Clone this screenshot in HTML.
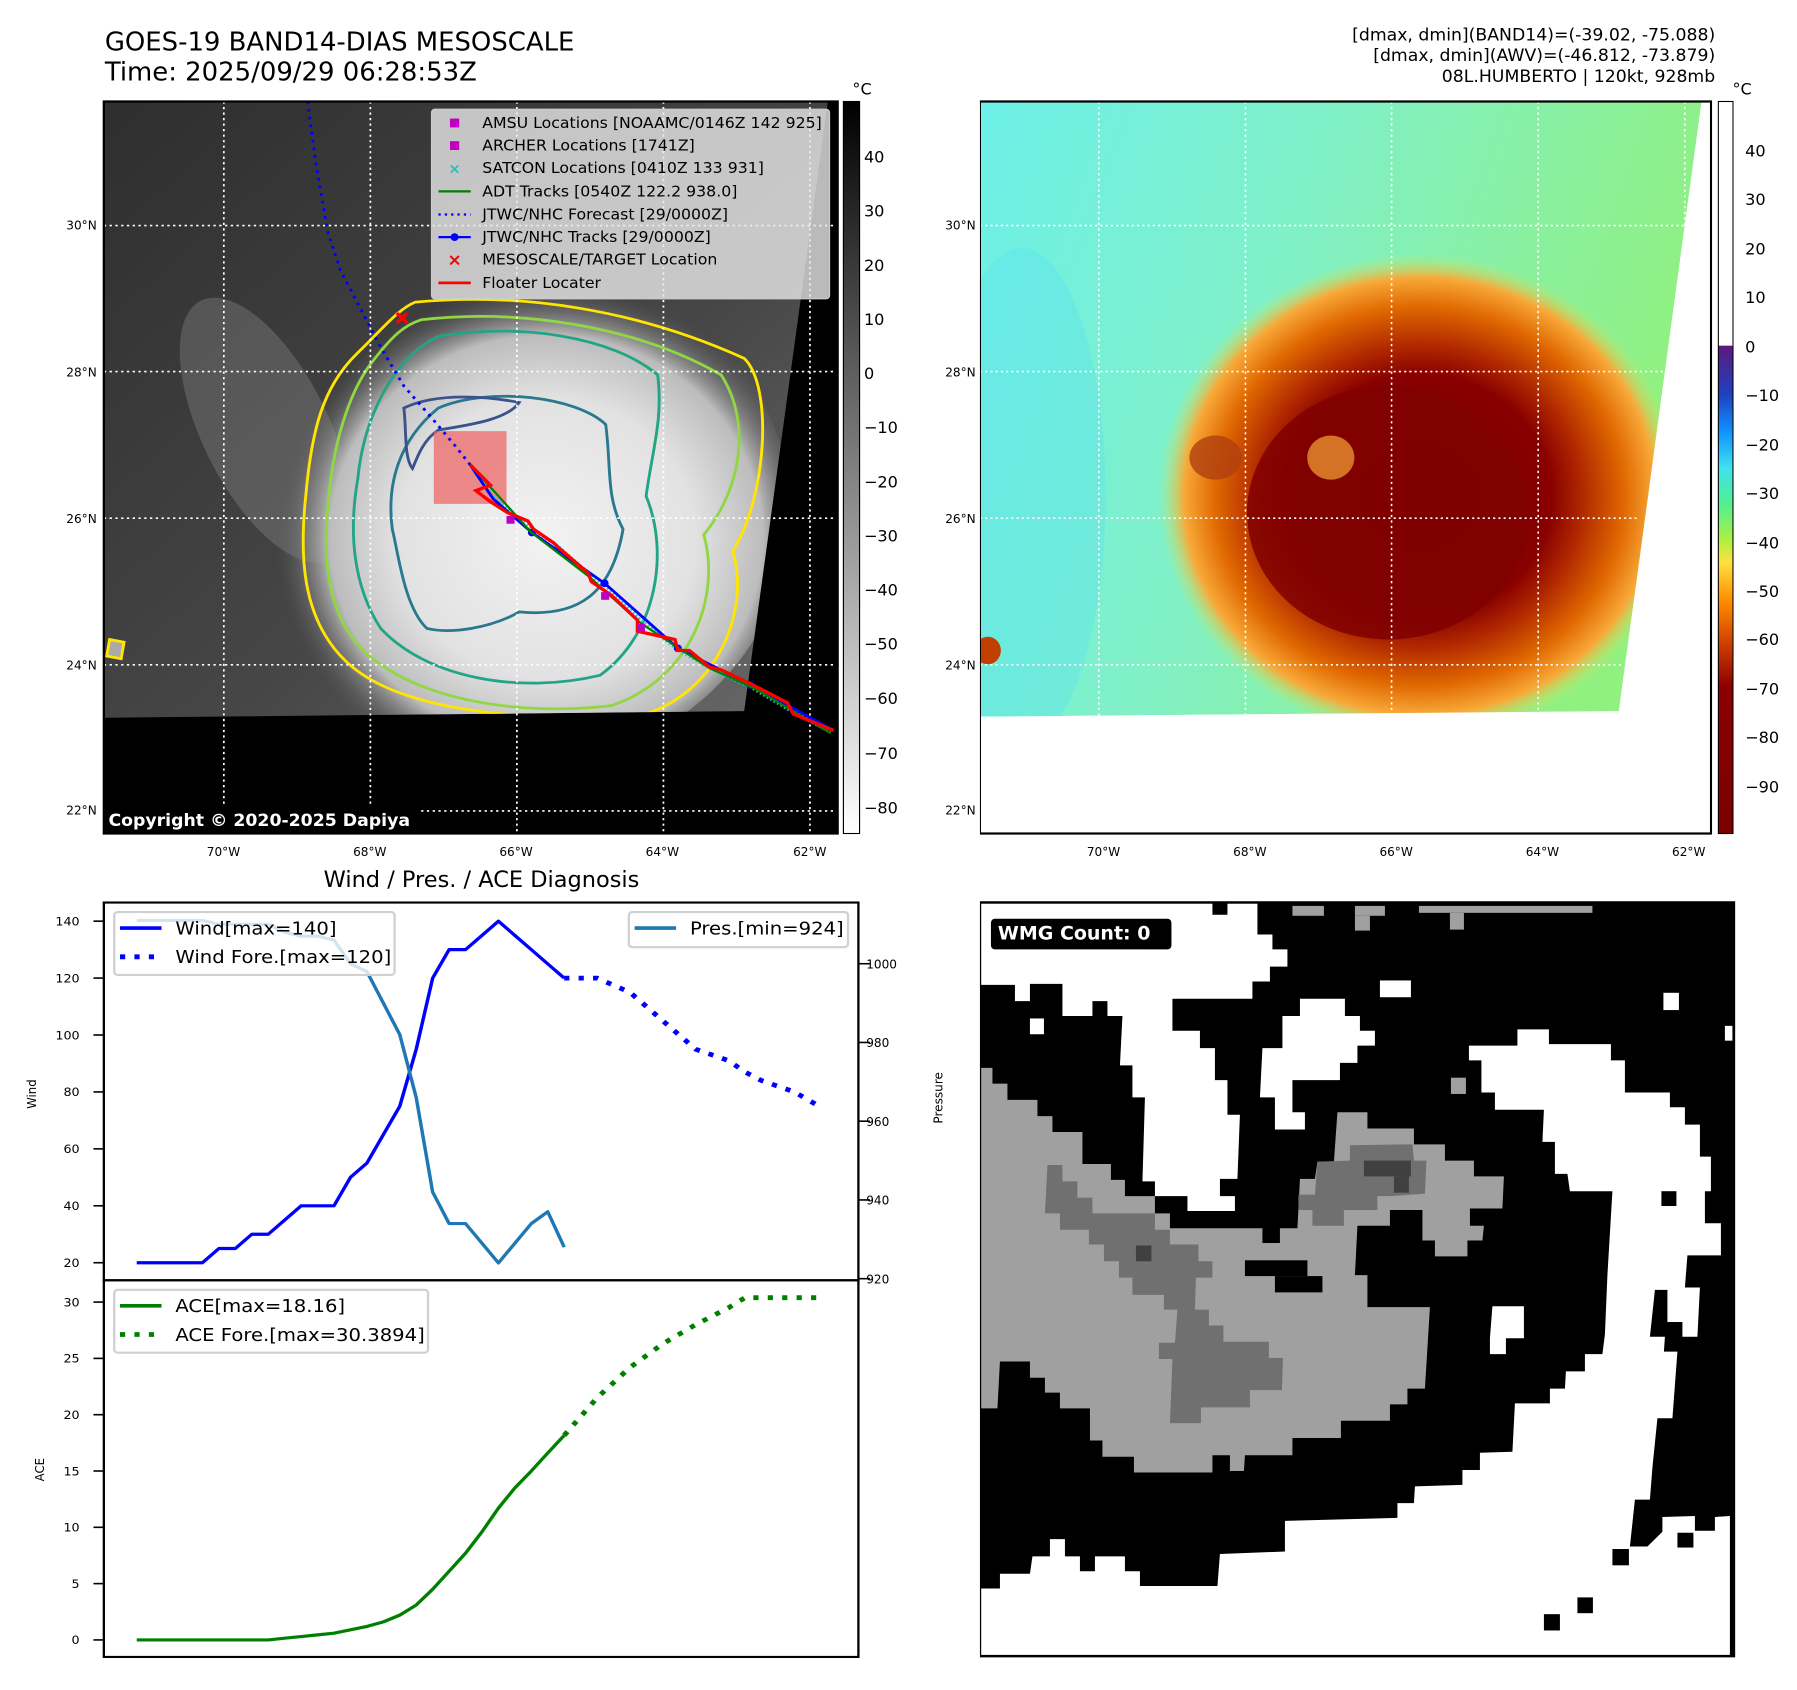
<!DOCTYPE html>
<html><head><meta charset="utf-8"><style>
html,body{margin:0;padding:0;background:#fff;}
svg{display:block;}
text{font-family:"DejaVu Sans","Liberation Sans",sans-serif;}
</style></head><body>
<svg id="root" width="1797" height="1690" viewBox="0 0 1560 1467" xmlns="http://www.w3.org/2000/svg">
<defs>
<radialGradient id="cloud" cx="0.55" cy="0.55" r="0.5">
<stop offset="0" stop-color="#f2f2f2"/><stop offset="0.55" stop-color="#e2e2e2"/><stop offset="0.8" stop-color="#bcbcbc"/><stop offset="1" stop-color="#555" stop-opacity="0"/></radialGradient>
<linearGradient id="greyBg" x1="0" y1="0" x2="1" y2="1"><stop offset="0" stop-color="#2e2e2e"/><stop offset="0.6" stop-color="#474747"/><stop offset="1" stop-color="#6a6a6a"/></linearGradient>
<linearGradient id="cbGrey" x1="0" y1="0" x2="0" y2="1"><stop offset="0" stop-color="#000"/><stop offset="1" stop-color="#fff"/></linearGradient>
<linearGradient id="cbJet" x1="0" y1="0" x2="0" y2="1">
<stop offset="0" stop-color="#ffffff"/><stop offset="0.333" stop-color="#ffffff"/><stop offset="0.334" stop-color="#5a1a80"/>
<stop offset="0.40" stop-color="#2040c0"/><stop offset="0.45" stop-color="#1090ff"/><stop offset="0.50" stop-color="#40e0f0"/>
<stop offset="0.55" stop-color="#50f090"/><stop offset="0.60" stop-color="#b0f040"/><stop offset="0.63" stop-color="#ffe040"/>
<stop offset="0.68" stop-color="#ff9000"/><stop offset="0.74" stop-color="#d04000"/><stop offset="0.80" stop-color="#8b0000"/><stop offset="1" stop-color="#7a0000"/></linearGradient>
<linearGradient id="skyBg" x1="0" y1="0" x2="1" y2="0.3"><stop offset="0" stop-color="#6cf0e8"/><stop offset="0.45" stop-color="#80f0c8"/><stop offset="1" stop-color="#90f080"/></linearGradient>
<radialGradient id="storm" cx="0.5" cy="0.5" r="0.5">
<stop offset="0" stop-color="#800000"/><stop offset="0.5" stop-color="#880000"/><stop offset="0.62" stop-color="#b02800"/>
<stop offset="0.78" stop-color="#e06800"/><stop offset="0.9" stop-color="#f8a838"/><stop offset="1" stop-color="#c0f070" stop-opacity="0"/></radialGradient>
</defs>

<!-- Titles -->
<text x="91" y="44" font-size="22.5">GOES-19 BAND14-DIAS MESOSCALE</text>
<text x="91" y="70" font-size="22.5">Time: 2025/09/29 06:28:53Z</text>
<g font-size="15" text-anchor="end">
<text x="1489" y="35">[dmax, dmin](BAND14)=(-39.02, -75.088)</text>
<text x="1489" y="53">[dmax, dmin](AWV)=(-46.812, -73.879)</text>
<text x="1489" y="71">08L.HUMBERTO | 120kt, 928mb</text>
</g>

<!-- LEFT MAP (zoom2 coords) -->
<svg x="0" y="0" width="781.25" height="746.5" viewBox="0 0 1560 1560" preserveAspectRatio="none">
<rect x="180" y="184" width="1272" height="1328" fill="#000"/>
<polygon points="180,184 1435,184 1290,1290 180,1302" fill="url(#greyBg)"/>
<ellipse cx="460" cy="780" rx="110" ry="260" fill="#9a9a9a" opacity="0.3" transform="rotate(-25 460 780)"/>
<clipPath id="dataclip"><polygon points="180,184 1435,184 1290,1290 180,1302"/></clipPath>
<g clip-path="url(#dataclip)">
<ellipse cx="900" cy="930" rx="470" ry="460" fill="url(#cloud)"/>
<g fill="none" stroke-width="5">
<path d="M720,548 C900,530 1100,560 1290,650 C1340,700 1330,900 1270,1000 C1300,1100 1250,1250 1120,1295 C950,1310 700,1300 600,1200 C520,1120 520,1000 530,900 C540,780 560,700 620,640 C660,600 690,560 720,548 Z" stroke="#ffe500"/>
<path d="M730,580 C900,560 1100,590 1250,680 C1300,760 1290,880 1220,970 C1250,1080 1200,1230 1060,1280 C900,1300 720,1270 630,1180 C560,1110 560,990 570,900 C580,790 610,700 650,650 C680,610 700,590 730,580 Z" stroke="#90d743"/>
<path d="M760,610 C900,585 1060,610 1140,680 C1150,760 1130,820 1120,900 C1160,1000 1140,1150 1040,1225 C900,1260 740,1230 660,1140 C610,1060 605,960 620,870 C630,760 680,650 760,610 Z" stroke="#21a585"/>
<path d="M760,740 C850,700 1000,720 1050,770 C1060,850 1050,900 1080,960 C1060,1080 1000,1120 900,1110 C850,1140 780,1150 740,1140 C700,1100 690,1000 680,960 C670,880 690,800 760,740 Z" stroke="#2a788e"/>
<path d="M700,740 C760,710 850,720 900,730 C880,760 820,770 760,780 C730,800 720,840 715,850 C700,830 705,780 700,740 Z" stroke="#3b528b"/>
<path d="M190,1160 L215,1165 L210,1195 L185,1190 Z" stroke="#ffe500" fill="#aaa"/>
</g>
</g>
<g stroke="#fff" stroke-width="3" stroke-dasharray="4,6">
<line x1="388" y1="184" x2="388" y2="1512"/><line x1="642" y1="184" x2="642" y2="1512"/><line x1="896" y1="184" x2="896" y2="1512"/><line x1="1150" y1="184" x2="1150" y2="1512"/><line x1="1404" y1="184" x2="1404" y2="1512"/>
<line x1="180" y1="409" x2="1452" y2="409"/><line x1="180" y1="674" x2="1452" y2="674"/><line x1="180" y1="940" x2="1452" y2="940"/><line x1="180" y1="1206" x2="1452" y2="1206"/><line x1="180" y1="1471" x2="1452" y2="1471"/>
</g>
<rect x="752" y="782" width="126" height="132" fill="#f06060" opacity="0.7"/>
<polyline points="533,184 548,300 568,420 590,490 625,560 660,630 700,700 750,760 790,810 815,843" fill="none" stroke="#0000ff" stroke-width="5" stroke-dasharray="5,9"/>
<polyline points="815,843 850,895 870,915 920,960 960,985 1020,1040 1050,1062 1110,1125 1175,1178 1230,1212 1300,1245 1370,1288 1440,1328" fill="none" stroke="#2ad0c8" stroke-width="7" stroke-dasharray="3,4"/>
<polyline points="815,843 855,905 922,966 1048,1058 1175,1176 1300,1242 1440,1322" fill="none" stroke="#0000ff" stroke-width="5"/>
<g fill="#0000ff"><circle cx="922" cy="966" r="7"/><circle cx="1048" cy="1058" r="7"/><circle cx="1175" cy="1176" r="7"/><circle cx="1300" cy="1242" r="7"/></g>
<polyline points="815,843 860,895 920,965 1020,1045 1110,1130 1230,1212 1310,1250 1440,1330" fill="none" stroke="#008000" stroke-width="4"/>
<polyline points="815,843 850,880 825,890 850,910 880,930 915,945 925,960 960,985 970,995 1020,1040 1025,1055 1060,1080 1105,1125 1105,1145 1170,1160 1175,1180 1195,1180 1230,1210 1250,1215 1310,1245 1365,1275 1375,1295 1445,1325" fill="none" stroke="#ff0000" stroke-width="6"/>
<g fill="#c000c0"><rect x="878" y="936" width="14" height="14"/><rect x="1042" y="1074" width="14" height="14"/><rect x="1104" y="1132" width="14" height="14"/></g>
<g stroke="#ff0000" stroke-width="6"><line x1="688" y1="568" x2="706" y2="586"/><line x1="706" y1="568" x2="688" y2="586"/></g>
<rect x="180" y="184" width="1272" height="1328" fill="none" stroke="#000" stroke-width="4"/>
<!-- legend -->
<g>
<rect x="748" y="198" width="690" height="344" rx="6" fill="#e8e8e8" fill-opacity="0.8" stroke="#ccc" stroke-width="2"/>
<g font-size="27.3">
<rect x="780" y="215" width="16" height="16" fill="#c000c0"/><text x="836" y="232">AMSU Locations [NOAAMC/0146Z 142 925]</text>
<rect x="780" y="256" width="16" height="16" fill="#c000c0"/><text x="836" y="273">ARCHER Locations [1741Z]</text>
<text x="788" y="315" fill="#20c0c0" text-anchor="middle" font-size="26" font-weight="bold">×</text><text x="836" y="314">SATCON Locations [0410Z 133 931]</text>
<line x1="760" y1="347" x2="816" y2="347" stroke="#008000" stroke-width="4"/><text x="836" y="356">ADT Tracks [0540Z 122.2 938.0]</text>
<line x1="760" y1="389" x2="816" y2="389" stroke="#0000ff" stroke-width="4" stroke-dasharray="4,7"/><text x="836" y="398">JTWC/NHC Forecast [29/0000Z]</text>
<line x1="760" y1="430" x2="816" y2="430" stroke="#0000ff" stroke-width="4"/><circle cx="788" cy="430" r="7" fill="#0000ff"/><text x="836" y="439">JTWC/NHC Tracks [29/0000Z]</text>
<text x="788" y="482" fill="#ff0000" text-anchor="middle" font-size="30" font-weight="bold">×</text><text x="836" y="480">MESOSCALE/TARGET Location</text>
<line x1="760" y1="513" x2="816" y2="513" stroke="#ff0000" stroke-width="5"/><text x="836" y="522">Floater Locater</text>
</g></g>
<rect x="180" y="1462" width="545" height="50" fill="#000"/>
<text x="188" y="1498" font-size="30" font-weight="bold" fill="#fff">Copyright © 2020-2025 Dapiya</text>
<rect x="1462" y="184" width="28" height="1328" fill="url(#cbGrey)" stroke="#000" stroke-width="2"/>
</svg>
<g font-size="10.5" text-anchor="end">
<text x="84" y="199">30°N</text><text x="84" y="327">28°N</text><text x="84" y="454">26°N</text><text x="84" y="581">24°N</text><text x="84" y="707">22°N</text></g>
<g font-size="10.5" text-anchor="middle">
<text x="194" y="743">70°W</text><text x="321" y="743">68°W</text><text x="448" y="743">66°W</text><text x="575" y="743">64°W</text><text x="703" y="743">62°W</text></g>
<g font-size="14">
<text x="750" y="141">40</text><text x="750" y="188">30</text><text x="750" y="235">20</text><text x="750" y="282">10</text><text x="750" y="329">0</text>
<text x="750" y="376">−10</text><text x="750" y="423">−20</text><text x="750" y="470">−30</text><text x="750" y="517">−40</text><text x="750" y="564">−50</text><text x="750" y="611">−60</text><text x="750" y="659">−70</text><text x="750" y="706">−80</text>
<text x="740" y="82">°C</text></g>

<!-- RIGHT MAP (zoom4 coords) -->
<svg x="850.7" y="0" width="709.2" height="746.5" viewBox="0 0 1560 1560" preserveAspectRatio="none">
<rect x="0" y="184" width="1396" height="1328" fill="#fff"/>
<clipPath id="rclip"><polygon points="0,184 1378,184 1220,1290 0,1300"/></clipPath>
<g clip-path="url(#rclip)">
<polygon points="0,184 1378,184 1220,1290 0,1300" fill="url(#skyBg)"/>
<ellipse cx="80" cy="900" rx="160" ry="450" fill="#58e0f0" opacity="0.35"/>
<ellipse cx="840" cy="900" rx="500" ry="440" fill="url(#storm)"/>
<ellipse cx="780" cy="930" rx="270" ry="230" fill="#800000" opacity="0.85"/>
<ellipse cx="670" cy="830" rx="45" ry="40" fill="#e89030" opacity="0.8"/>
<ellipse cx="450" cy="830" rx="50" ry="40" fill="#b04010" opacity="0.8"/>
<ellipse cx="15" cy="1180" rx="25" ry="25" fill="#c04000"/>
</g>
<g stroke="#fff" stroke-width="3" stroke-dasharray="4,6">
<line x1="227" y1="184" x2="227" y2="1300"/><line x1="507" y1="184" x2="507" y2="1300"/><line x1="786" y1="184" x2="786" y2="1295"/><line x1="1066" y1="184" x2="1066" y2="1292"/><line x1="1346" y1="184" x2="1346" y2="410"/>
<line x1="0" y1="409" x2="1345" y2="409"/><line x1="0" y1="674" x2="1305" y2="674"/><line x1="0" y1="940" x2="1260" y2="940"/><line x1="0" y1="1206" x2="1225" y2="1206"/>
</g>
<rect x="0" y="184" width="1396" height="1328" fill="none" stroke="#000" stroke-width="4"/>
<rect x="1410" y="184" width="28" height="1328" fill="url(#cbJet)" stroke="#000" stroke-width="2"/>
</svg>
<g font-size="10.5" text-anchor="end">
<text x="847" y="199">30°N</text><text x="847" y="327">28°N</text><text x="847" y="454">26°N</text><text x="847" y="581">24°N</text><text x="847" y="707">22°N</text></g>
<g font-size="10.5" text-anchor="middle">
<text x="958" y="743">70°W</text><text x="1085" y="743">68°W</text><text x="1212" y="743">66°W</text><text x="1339" y="743">64°W</text><text x="1466" y="743">62°W</text></g>
<g font-size="14">
<text x="1515" y="136">40</text><text x="1515" y="178">30</text><text x="1515" y="221">20</text><text x="1515" y="263">10</text><text x="1515" y="306">0</text>
<text x="1515" y="348">−10</text><text x="1515" y="391">−20</text><text x="1515" y="433">−30</text><text x="1515" y="476">−40</text><text x="1515" y="518">−50</text><text x="1515" y="560">−60</text><text x="1515" y="603">−70</text><text x="1515" y="645">−80</text><text x="1515" y="688">−90</text>
<text x="1504" y="82">°C</text></g>

<!-- CHART (zoom1 coords) -->
<text x="418" y="770" font-size="19.5" text-anchor="middle">Wind / Pres. / ACE Diagnosis</text>
<svg id="chart" x="0" y="746.5" width="781.25" height="720.5" viewBox="0 0 1560 1560" preserveAspectRatio="none"></svg>
<g id="presTicks" font-size="10.5"></g>
<text transform="translate(818,953) rotate(-90)" font-size="10.5" text-anchor="middle">Pressure</text>

<!-- WMG (zoom3 coords) -->
<svg x="850.7" y="781.25" width="677.1" height="668.4" viewBox="0 0 1560 1560" preserveAspectRatio="none">
<rect x="0" y="5" width="1508" height="1527" fill="#000"/>
<g fill="#fff">
<polygon points="0,5 465,5 465,30 495,30 495,5 555,5 555,70 585,70 585,100 615,100 615,135 580,135 580,165 545,165 545,200 385,200 385,265 440,265 440,300 470,300 470,365 495,365 495,435 520,435 515,565 480,565 480,600 510,600 510,630 415,630 415,600 350,600 350,570 325,570 330,400 305,400 305,335 280,335 285,235 255,235 255,205 225,205 225,235 165,235 165,170 100,170 100,205 70,205 70,172 0,172"/>
<rect x="100" y="240" width="28" height="32"/>
<polygon points="640,200 730,200 730,235 760,235 760,265 790,265 790,295 755,295 755,330 720,330 720,365 625,365 625,430 650,430 650,465 590,465 590,400 560,400 565,300 605,300 605,235 640,235"/>
<rect x="800" y="163" width="62" height="34"/><rect x="1367" y="188" width="31" height="35"/><rect x="1490" y="255" width="15" height="30"/>
<polygon points="978,295 1075,295 1075,262 1138,262 1138,292 1262,292 1262,325 1290,325 1290,390 1380,390 1380,420 1410,420 1410,455 1440,455 1440,520 1462,520 1462,590 1450,590 1450,655 1482,655 1482,720 1415,720 1410,785 1440,785 1435,885 1405,885 1405,855 1375,855 1375,790 1350,790 1340,885 1370,885 1368,915 1395,915 1385,1050 1355,1050 1345,1150 1340,1215 1310,1215 1300,1310 1335,1310 1365,1280 1365,1250 1430,1248 1430,1278 1470,1278 1470,1250 1500,1248 1500,1532 0,1532 0,1395 40,1395 40,1365 100,1365 105,1330 140,1330 140,1295 170,1295 170,1330 200,1330 200,1360 230,1360 230,1330 290,1330 290,1360 320,1360 320,1390 475,1390 480,1325 610,1320 610,1258 835,1252 835,1222 868,1222 870,1188 965,1185 965,1155 1000,1155 1000,1120 1065,1118 1070,1020 1140,1020 1140,990 1170,990 1172,955 1210,955 1210,920 1245,920 1250,880 1255,760 1265,590 1180,590 1175,555 1150,555 1150,490 1125,490 1128,425 1030,425 1030,390 1003,390 1003,325 978,325"/>
<polygon points="1025,823 1088,823 1088,888 1052,888 1052,920 1020,920 1020,888"/>
</g>
<g fill="#000"><rect x="1265" y="1315" width="33" height="33"/><rect x="1395" y="1282" width="32" height="30"/><rect x="1195" y="1413" width="31" height="32"/><rect x="1128" y="1447" width="32" height="33"/><rect x="1363" y="590" width="30" height="30"/></g>
<g fill="#a0a0a0">
<polygon points="0,340 25,340 25,372 55,372 55,405 115,405 115,438 145,438 145,470 205,470 205,535 262,535 262,567 290,567 290,600 350,600 350,635 380,635 380,665 565,665 565,695 600,695 600,665 635,665 640,565 670,565 675,530 708,530 715,430 775,430 775,463 868,463 868,495 930,495 930,528 988,528 988,560 1048,560 1045,625 980,625 980,660 1008,660 1005,690 975,690 975,722 910,722 910,690 885,690 885,628 820,628 820,660 755,660 750,760 775,760 775,825 900,825 890,990 855,990 855,1022 820,1022 820,1055 722,1055 722,1090 625,1090 625,1125 530,1125 528,1157 500,1157 500,1125 465,1125 465,1160 308,1160 308,1128 245,1128 245,1095 220,1095 220,1030 160,1030 160,998 130,998 130,968 100,968 100,935 40,935 35,1030 0,1030"/>
<rect x="625" y="12" width="63" height="20"/><rect x="750" y="12" width="60" height="20"/><rect x="750" y="32" width="30" height="30"/><rect x="878" y="12" width="347" height="14"/><rect x="940" y="26" width="28" height="34"/><rect x="942" y="360" width="30" height="33"/>
</g>
<g fill="#000"><rect x="530" y="730" width="125" height="32"/><rect x="590" y="762" width="95" height="33"/></g>
<g fill="#707070">
<polygon points="135,537 165,537 165,570 195,570 195,603 225,603 225,635 350,635 350,668 380,668 380,698 437,698 437,732 465,732 465,765 432,765 430,830 458,830 458,862 487,862 487,895 578,895 578,928 606,928 604,993 540,993 540,1028 442,1028 442,1060 380,1060 385,930 358,930 358,897 390,897 395,830 368,830 368,800 305,800 305,765 278,765 278,732 248,732 248,698 218,698 218,668 160,668 160,635 130,635"/>
<polygon points="740,497 865,495 868,528 893,528 890,595 822,600 795,600 795,628 728,628 728,660 665,660 665,628 637,628 637,597 670,597 675,530 740,528"/>
</g>
<g fill="#404040"><rect x="312" y="700" width="31" height="32"/><rect x="768" y="528" width="94" height="32"/><rect x="828" y="560" width="30" height="33"/></g>
<rect x="0" y="5" width="1508" height="1527" fill="none" stroke="#000" stroke-width="5"/>
<rect x="22" y="38" width="361" height="62" rx="8" fill="#000"/>
<text x="36" y="80" font-size="38" font-weight="bold" fill="#fff">WMG Count: 0</text>
</svg>
</svg>

<script>
// ---- chart data ----
const obsIdx = [0,1,2,3,4,5,6,7,8,9,10,11,12,13,14,15,16,17,18,19,20,21,22,23,24,25,26];
const windObs = [20,20,20,20,20,25,25,30,30,35,40,40,40,50,55,65,75,95,120,130,130,135,140,135,130,125,120];
const presObs = [1011,1011,1011,1011,1011,1010,1010,1010,1010,1008,1007,1007,1006,1000,998,990,982,966,942,934,934,929,924,929,934,937,928];
const aceObs = [0,0,0,0,0,0,0,0,0,0.15,0.3,0.45,0.6,0.9,1.2,1.6,2.2,3.1,4.5,6.1,7.7,9.6,11.7,13.5,15.0,16.6,18.16];
const foreIdx = [26,28,30,32,34,36,37,38,40,41.5];
const windFore = [120,120,115,105,95,91,87,84,80,75];
const aceFore = [18.16,21.5,24.2,26.3,28,29.5,30.39,30.39,30.39,30.39];
const windTicks = [20,40,60,80,100,120,140];
const presTicks = [920,940,960,980,1000];
const aceTicks = [0,5,10,15,20,25,30];

const NS = "http://www.w3.org/2000/svg";
const chart = document.getElementById('chart');
const xS = k => 237 + 28.5 * k;
const yW = v => 757 - (v - 20) * (642 / 120);
const yP = v => 787 - (v - 920) * (592 / 80);
const yA = v => 1466 - v * (635 / 30);
function mk(tag, attrs, parent) {
  const e = document.createElementNS(NS, tag);
  for (const k in attrs) e.setAttribute(k, attrs[k]);
  (parent || chart).appendChild(e);
  return e;
}
function line(xs, ys, fx, fy, color, dash, name) {
  const pts = xs.map((x, i) => fx(x).toFixed(1) + ',' + fy(ys[i]).toFixed(1)).join(' ');
  const p = mk('polyline', {points: pts, fill: 'none', stroke: color, 'stroke-width': dash ? 9 : 6, 'stroke-linejoin': 'round'});
  if (dash) p.setAttribute('stroke-dasharray', dash);
  
  
}
const f1 = mk('rect', {x: 180, y: 80, width: 1308, height: 710, fill: 'none', stroke: '#000', 'stroke-width': 4});


const f2 = mk('rect', {x: 180, y: 790, width: 1308, height: 708, fill: 'none', stroke: '#000', 'stroke-width': 4});


windTicks.forEach(v => {
  mk('line', {x1: 162, x2: 180, y1: yW(v), y2: yW(v), stroke: '#000', 'stroke-width': 3});
  const t = mk('text', {x: 138, y: yW(v) + 8, 'font-size': 22, 'text-anchor': 'end'});
  t.textContent = v;
  
  
});
aceTicks.forEach(v => {
  mk('line', {x1: 162, x2: 180, y1: yA(v), y2: yA(v), stroke: '#000', 'stroke-width': 3});
  const t = mk('text', {x: 138, y: yA(v) + 8, 'font-size': 22, 'text-anchor': 'end'});
  t.textContent = v;
  
  
});
presTicks.forEach(v => {
  mk('line', {x1: 1488, x2: 1508, y1: yP(v), y2: yP(v), stroke: '#000', 'stroke-width': 3});
});
const pt = document.getElementById('presTicks');
presTicks.forEach(v => {
  const t = mk('text', {x: 752, y: 746.5 + yP(v) * 720.5 / 1560 + 4}, pt);
  t.textContent = v;
  
  
});
const wl = mk('text', {transform: 'translate(62,440) rotate(-90)', 'font-size': 22, 'text-anchor': 'middle'});
wl.textContent = 'Wind';


const al = mk('text', {transform: 'translate(76,1146) rotate(-90)', 'font-size': 22, 'text-anchor': 'middle'});
al.textContent = 'ACE';


line(obsIdx, windObs, xS, yW, '#0000ff', null, 'wind-line');
line(foreIdx, windFore, xS, yW, '#0000ff', '9,16', 'wind-forecast-line');
line(obsIdx, presObs, xS, yP, '#1f77b4', null, 'pressure-line');
line(obsIdx, aceObs, xS, yA, '#008000', null, 'ace-line');
line(foreIdx, aceFore, xS, yA, '#008000', '9,16', 'ace-forecast-line');
function legend(x, y, w, h, items, name) {
  const g = mk('g', {});
  
  
  mk('rect', {x: x, y: y, width: w, height: h, rx: 6, fill: '#fff', 'fill-opacity': 0.8, stroke: '#d0d0d0', 'stroke-width': 4}, g);
  items.forEach((it, i) => {
    const cy = y + 30 + i * 54;
    const l = mk('line', {x1: x + 10, x2: x + 82, y1: cy, y2: cy, stroke: it[1], 'stroke-width': it[2] ? 9 : 7}, g);
    if (it[2]) l.setAttribute('stroke-dasharray', '9,16');
    const t = mk('text', {x: x + 106, y: cy + 12, 'font-size': 34}, g);
    t.textContent = it[0];
  });
}
legend(198, 98, 486, 118, [['Wind[max=140]', '#0000ff', false], ['Wind Fore.[max=120]', '#0000ff', true]], 'wind-legend');
legend(1090, 98, 380, 66, [['Pres.[min=924]', '#1f77b4', false]], 'pressure-legend');
legend(198, 808, 544, 118, [['ACE[max=18.16]', '#008000', false], ['ACE Fore.[max=30.3894]', '#008000', true]], 'ace-legend');
</script>
</body></html>
